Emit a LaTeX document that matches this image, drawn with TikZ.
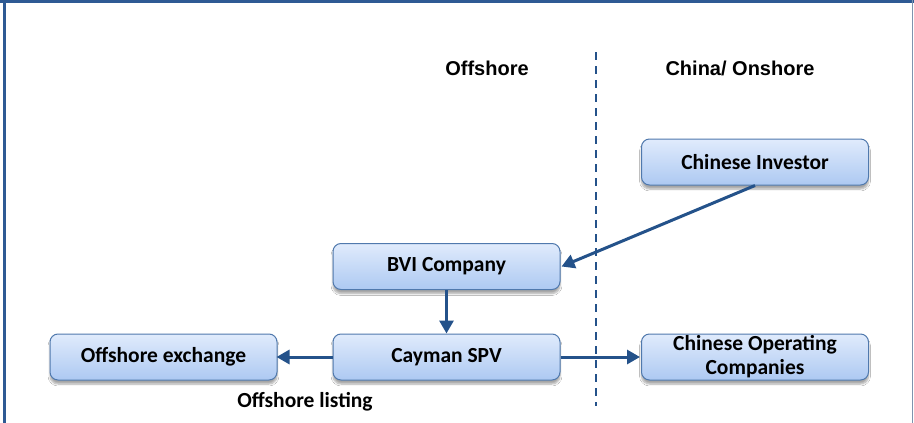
\documentclass[tikz,border=0pt]{standalone}
\usepackage{fontspec}
\setmainfont{Carlito}
\newfontfamily\headfont{Liberation Sans}
\usetikzlibrary{arrows.meta,shadows.blur}
\definecolor{framecol}{HTML}{2E5A94}
\definecolor{framelight}{HTML}{7F93AE}
\definecolor{arrowcol}{HTML}{24528A}
\definecolor{boxedge}{HTML}{5079AD}
\definecolor{boxtop}{HTML}{E0EBFC}
\definecolor{boxbot}{HTML}{ADC9F2}
\tikzset{
  entity/.style={draw=boxedge, line width=1pt, rounded corners=8pt,
    top color=boxtop, bottom color=boxbot,
    minimum width=227pt, minimum height=46pt, inner sep=0pt,
    align=center, font=\fontsize{21.5}{24}\selectfont\bfseries,
    blur shadow={shadow xshift=0pt, shadow yshift=-4pt, shadow blur steps=6, shadow blur extra rounding=2pt, shadow opacity=35}},
  heading/.style={font=\headfont\fontsize{20}{24}\selectfont\bfseries, inner sep=0pt},
  flow/.style={draw=arrowcol, line width=3pt, -{Triangle[length=13pt,width=14pt]}},
  divider/.style={draw=arrowcol, line width=2pt, dash pattern=on 8pt off 6pt}
}
\begin{document}
\begin{tikzpicture}[x=1pt,y=-1pt]
  \useasboundingbox (0,0) rectangle (914,423);
  \fill[white] (0,0) rectangle (914,423);
  % outer frame
  \draw[framecol, line width=3pt] (0,1.5) -- (914,1.5);
  \draw[framecol, line width=3pt] (4.5,0) -- (4.5,423);
  \draw[framelight, line width=1.5pt] (912.5,0) -- (912.5,423);

  % region headings and divider
  \node[heading] (offhead) at (487,68) {Offshore};
  \node[heading] (onhead) at (740,68) {China/ Onshore};
  \coordinate (divtop) at (596,52);
  \coordinate (divbot) at (596,406);
  \draw[divider] (divtop) -- (divbot);

  % entities
  \node[entity] (investor) at (755,162) {Chinese Investor};
  \node[entity] (bvi) at (446.5,266.5) {BVI Company};
  \node[entity] (exchange) at (163.5,357) {Offshore exchange};
  \node[entity] (cayman) at (446.5,357) {Cayman SPV};
  \node[entity] (opco) at (755,357) {Chinese Operating\\Companies};

  % flows
  \draw[flow] (investor.south) -- ([xshift=1pt]bvi.east);
  \draw[flow] (bvi.south) -- (cayman.north);
  \draw[flow] (cayman.west) -- ([xshift=-1pt]exchange.east);
  \draw[flow] (cayman.east) -- ([xshift=-1pt]opco.west);

  \node[font=\fontsize{21.5}{24}\selectfont\bfseries, inner sep=0pt] (listing) at (305,402) {Offshore listing};
\end{tikzpicture}
\end{document}
